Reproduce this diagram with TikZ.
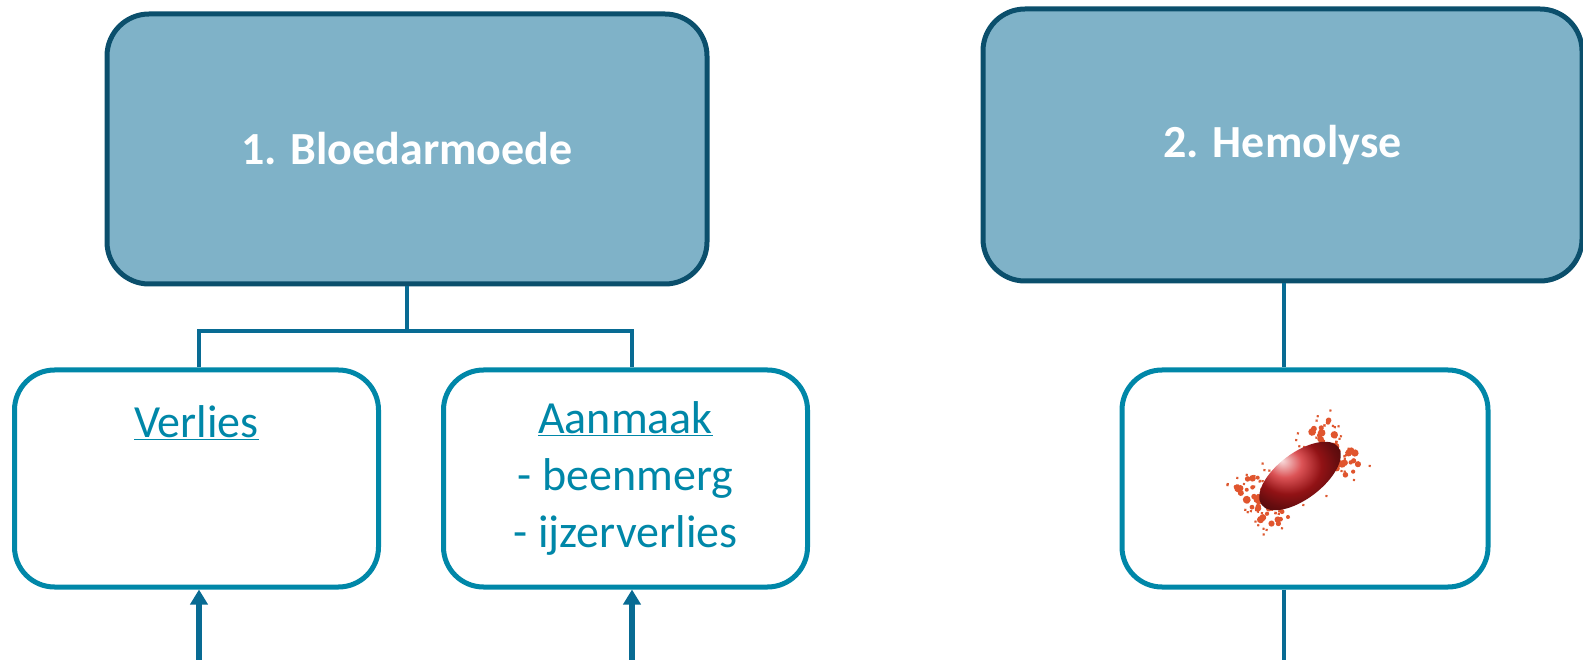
\documentclass[tikz,border=0pt]{standalone}
\usepackage{fontspec}
\setmainfont{Carlito}
\usetikzlibrary{arrows.meta}
\definecolor{kopvul}{HTML}{7FB2C8}
\definecolor{koprand}{HTML}{0B4F6C}
\definecolor{vakrand}{HTML}{0087A8}
\definecolor{lijn}{HTML}{086B93}
\definecolor{celrood}{HTML}{D01A1E}
\definecolor{spat}{HTML}{E0552E}
\tikzset{
  kop/.style={draw=koprand,fill=kopvul,line width=5pt,rounded corners=42pt,text=white,font=\fontsize{46}{55}\selectfont\bfseries},
  vak/.style={draw=vakrand,fill=white,line width=5pt,rounded corners=40pt,text=vakrand,align=center,
    font=\fontsize{46}{57}\selectfont,minimum width=364pt,minimum height=217pt},
  tak/.style={draw=lijn,line width=4.5pt},
  pijl/.style={draw=lijn,line width=5.5pt,-{Triangle[width=17pt,length=15pt]}}
}

\begin{document}
\begin{tikzpicture}[x=1pt,y=-1pt]
  \useasboundingbox (0,0) rectangle (1583,660);
  % kopblokken
  \node[kop,minimum width=600pt,minimum height=270pt] (bloed) at (407,149) {1. Bloedarmoede};
  \node[kop,minimum width=599pt,minimum height=272pt] (hemo) at (1282.5,145) {2. Hemolyse};
  % onderblokken
  \node[vak] (verlies) at (196.5,478.5) {\underline{Verlies}\\\mbox{}\\\mbox{}};
  \node[vak] (aanmaak) at (625.5,478.5) {\underline{Aanmaak}\\- beenmerg\\- ijzerverlies};
  \node[vak,minimum width=366pt] (cel) at (1305,478.5) {};
  % rode bloedcel
  \pgfmathsetseed{11}
  \begin{scope}[shift={(1300,476)},rotate=37]
    \foreach \i in {1,...,90} \fill[spat!90!brown] ({(rnd-0.5)*130},{(rnd-0.5)*75}) circle (1.5);
    \foreach \i in {1,...,40} \fill[spat] ({-58+rnd*24},{(rnd-0.5)*60}) circle ({1.5+rnd*2.5});
    \foreach \i in {1,...,40} \fill[spat] ({34+rnd*24},{(rnd-0.5)*60}) circle ({1.5+rnd*2.5});
    \shade[ball color=celrood] (0,0) ellipse (48 and 23);
  \end{scope}
  % verbindingen
  \coordinate (busL) at (199,331);
  \coordinate (busR) at (632,331);
  \coordinate (voetL) at (199,660);
  \coordinate (voetR) at (632,660);
  \coordinate (celas) at (1284,660);
  \draw[tak] (bloed.south) -- (bloed.south |- busL);
  \draw[tak] (busL |- verlies.north) -- (busL) -- (busR) -- (busR |- aanmaak.north);
  \draw[pijl] (voetL) -- (voetL |- verlies.south);
  \draw[pijl] (voetR) -- (voetR |- aanmaak.south);
  \draw[tak] (celas |- hemo.south) -- (celas |- cel.north);
  \draw[tak] (celas |- cel.south) -- (celas);
\end{tikzpicture}
\end{document}
